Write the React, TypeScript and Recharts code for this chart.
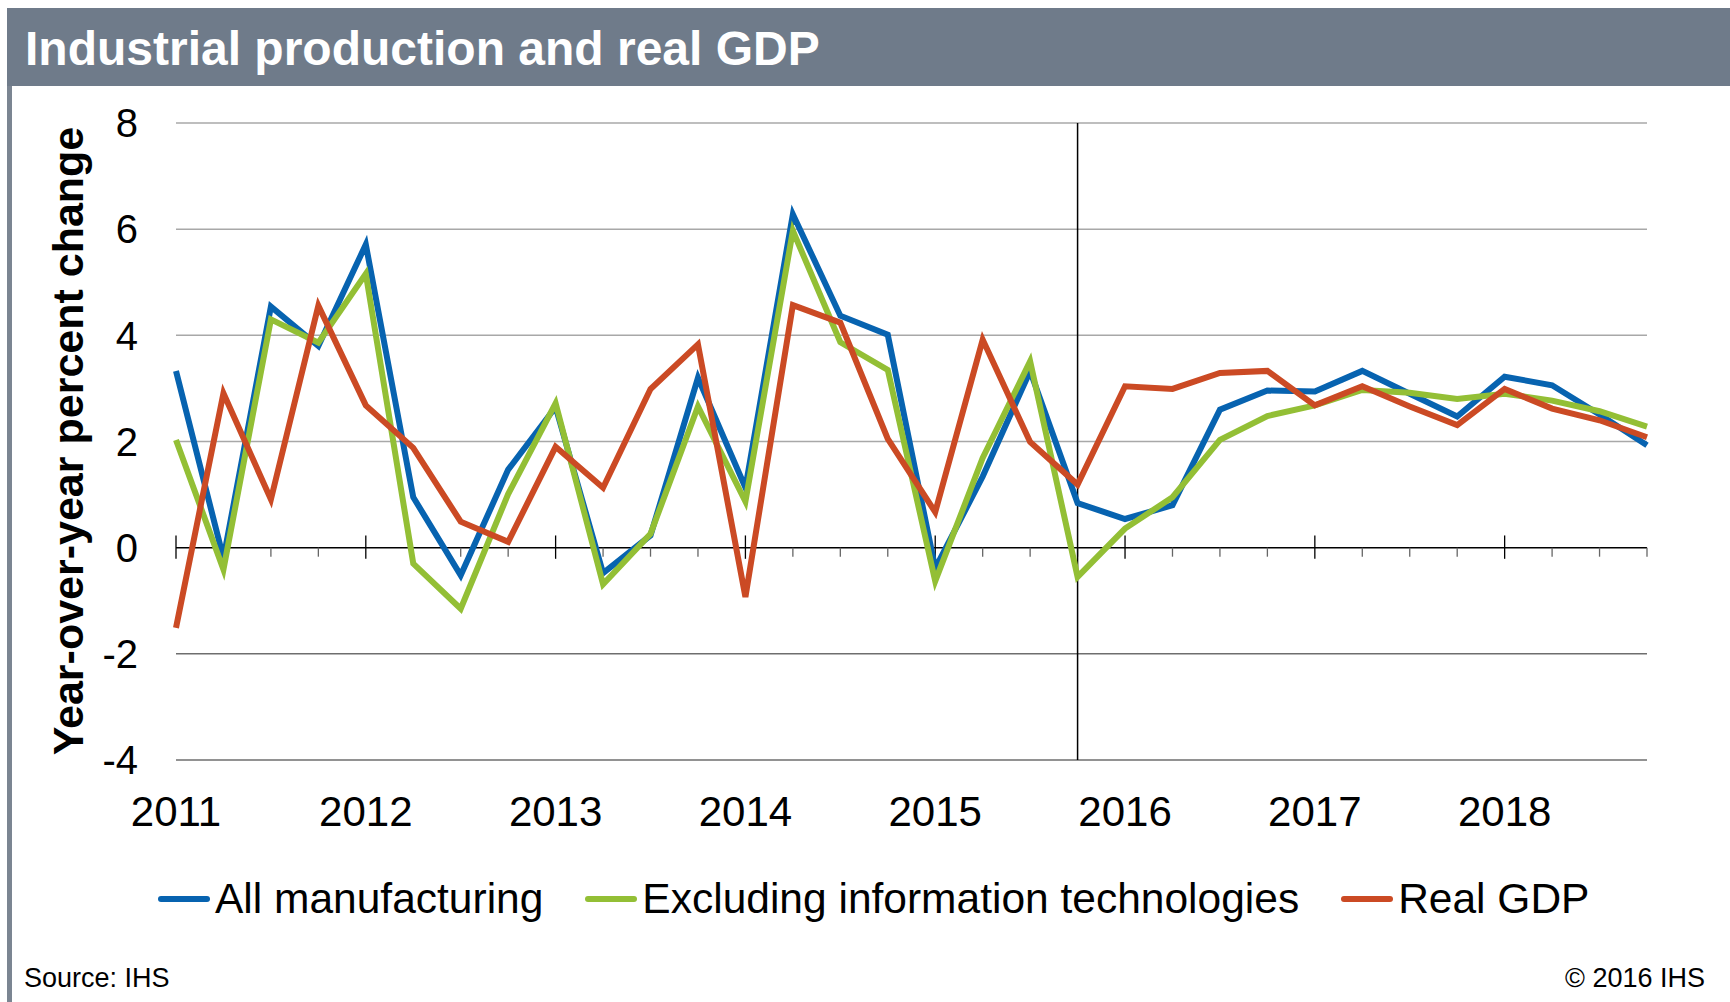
import { LineChart, Line, XAxis, YAxis, ReferenceLine } from "recharts";

const quarters = [
  "2011 Q1", "2011 Q2", "2011 Q3", "2011 Q4",
  "2012 Q1", "2012 Q2", "2012 Q3", "2012 Q4",
  "2013 Q1", "2013 Q2", "2013 Q3", "2013 Q4",
  "2014 Q1", "2014 Q2", "2014 Q3", "2014 Q4",
  "2015 Q1", "2015 Q2", "2015 Q3", "2015 Q4",
  "2016 Q1", "2016 Q2", "2016 Q3", "2016 Q4",
  "2017 Q1", "2017 Q2", "2017 Q3", "2017 Q4",
  "2018 Q1", "2018 Q2", "2018 Q3", "2018 Q4",
];

const allManufacturing = [
  3.33, -0.2, 4.54, 3.8, 5.71, 0.95, -0.52, 1.47,
  2.65, -0.48, 0.23, 3.2, 1.13, 6.28, 4.37, 4.01,
  -0.39, 1.34, 3.33, 0.84, 0.54, 0.8, 2.6, 2.96,
  2.94, 3.33, 2.9, 2.47, 3.22, 3.06, 2.51, 1.93,
];

const excludingIT = [
  2.03, -0.41, 4.3, 3.86, 5.16, -0.3, -1.15, 1.01,
  2.72, -0.69, 0.26, 2.66, 0.87, 5.97, 3.87, 3.35,
  -0.63, 1.69, 3.51, -0.55, 0.36, 0.95, 2.03, 2.48,
  2.68, 2.97, 2.92, 2.8, 2.9, 2.77, 2.57, 2.28,
];

const realGdp = [
  -1.51, 2.91, 0.91, 4.56, 2.68, 1.88, 0.49, 0.11,
  1.9, 1.13, 2.99, 3.83, -0.93, 4.57, 4.24, 2.05,
  0.67, 3.92, 1.99, 1.19, 3.04, 2.99, 3.29, 3.33,
  2.68, 3.04, 2.66, 2.31, 2.99, 2.62, 2.4, 2.08,
];

const yTicks = [-4, -2, 0, 2, 4, 6, 8];
const forecastStart = "2015 Q4";

const seriesNames = ["All manufacturing", "Excluding information technologies", "Real GDP"];
const seriesKeys = ["mfg", "exIt", "gdp"];
const seriesColors = ["#0763b0", "#93bf35", "#cb4a24"];

const data = quarters.map((q, i) => ({
  q,
  mfg: allManufacturing[i],
  exIt: excludingIT[i],
  gdp: realGdp[i],
}));

const FONT = '"Liberation Sans", Arial, Helvetica, sans-serif';

function YearTick(props: any) {
  const { x, y, payload } = props;
  const [year, qtr] = String(payload.value).split(" ");
  if (qtr !== "Q1") return <g />;
  return (
    <text x={x} y={y + 66} textAnchor="middle" fontSize={42} fontFamily={FONT} fill="#000">
      {year}
    </text>
  );
}

export default function App() {
  return (
    <div
      style={{
        position: "absolute",
        left: 0,
        top: 0,
        width: 1730,
        height: 1002,
        background: "#fff",
        fontFamily: FONT,
        overflow: "hidden",
      }}
    >
      {/* header bar */}
      <div
        style={{
          position: "absolute",
          left: 7,
          top: 8,
          width: 1723,
          height: 78,
          background: "#6f7b8a",
          color: "#fff",
          fontWeight: "bold",
          fontSize: 48,
          lineHeight: "82px",
          paddingLeft: 18,
          boxSizing: "border-box",
        }}
      >
        Industrial production and real GDP
      </div>
      <div
        style={{
          position: "absolute",
          left: 7,
          top: 86,
          width: 5,
          height: 916,
          background: "#7b8592",
        }}
      />

      <div style={{ position: "absolute", left: 0, top: 0 }}>
        <LineChart
          width={1730}
          height={1002}
          data={data}
          margin={{ top: 123, right: 83, bottom: 162, left: 76 }}
        >
          {yTicks
            .filter((v) => v !== 0)
            .map((v) => (
              <ReferenceLine
                key={"g" + v}
                y={v}
                stroke={v > 0 ? "#a8a8a8" : "#6e6e6e"}
                strokeWidth={1.5}
              />
            ))}
          <XAxis
            dataKey="q"
            interval={0}
            axisLine={false}
            tickLine={false}
            tickSize={0}
            tickMargin={0}
            height={80}
            padding={{ left: 0, right: 0 }}
            tick={<YearTick />}
          />
          <YAxis
            domain={[-4, 8]}
            ticks={yTicks}
            width={100}
            axisLine={false}
            tickLine={false}
            tickSize={0}
            tickMargin={38}
            tick={{ fontSize: 40, fill: "#000", fontFamily: FONT }}
          />
          <ReferenceLine y={0} stroke="#000" strokeWidth={1.5} />
          {quarters.map((q) => {
            const major = q.endsWith("Q1");
            return (
              <ReferenceLine
                key={"t" + q}
                segment={
                  major
                    ? [{ x: q, y: 0.23 }, { x: q, y: -0.21 }]
                    : [{ x: q, y: 0 }, { x: q, y: -0.17 }]
                }
                stroke={major ? "#000" : "#666"}
                strokeWidth={1.3}
                ifOverflow="visible"
              />
            );
          })}
          <ReferenceLine x={forecastStart} stroke="#000" strokeWidth={1.5} />
          {seriesKeys.map((k, i) => (
            <Line
              key={k}
              type="linear"
              dataKey={k}
              name={seriesNames[i]}
              stroke={seriesColors[i]}
              strokeWidth={6}
              dot={false}
              activeDot={false}
              isAnimationActive={false}
            />
          ))}
        </LineChart>
      </div>

      {/* y axis title */}
      <svg
        width={1730}
        height={1002}
        style={{ position: "absolute", left: 0, top: 0, pointerEvents: "none" }}
      >
        <text
          transform="translate(83 441) rotate(-90)"
          textAnchor="middle"
          fontSize={43}
          fontWeight="bold"
          fontFamily={FONT}
          fill="#000"
        >
          Year-over-year percent change
        </text>
      </svg>

      {/* legend */}
      <div
        style={{
          position: "absolute",
          left: 158,
          top: 875,
          display: "flex",
          gap: 42,
          fontSize: 42.5,
          lineHeight: "48px",
          whiteSpace: "nowrap",
        }}
      >
        {seriesNames.map((n, i) => (
          <div key={n} style={{ display: "flex", alignItems: "center" }}>
            <span
              style={{
                display: "inline-block",
                width: 52,
                height: 6,
                borderRadius: 3,
                background: seriesColors[i],
                marginRight: 5,
              }}
            />
            <span>{n}</span>
          </div>
        ))}
      </div>

      {/* footer */}
      <div style={{ position: "absolute", left: 24, top: 962, fontSize: 27, lineHeight: "32px" }}>
        Source: IHS
      </div>
      <div
        style={{
          position: "absolute",
          right: 25,
          top: 962,
          fontSize: 27,
          lineHeight: "32px",
        }}
      >
        © 2016 IHS
      </div>
    </div>
  );
}
